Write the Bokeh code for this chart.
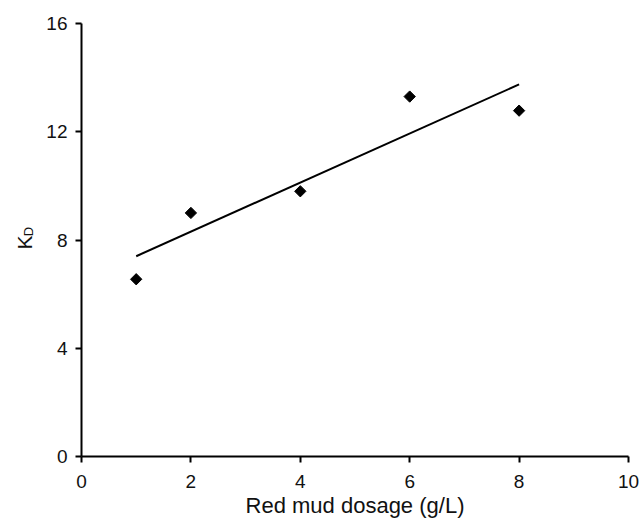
import math
from bokeh.plotting import figure
from bokeh.layouts import row
from bokeh.models import Range1d, FixedTicker
from bokeh.core.properties import value
from bokeh.embed import file_html
from bokeh.resources import INLINE

# Data
dosage = [1, 2, 4, 6, 8]
kd = [6.55, 9.0, 9.8, 13.3, 12.78]
fit_x = [1, 8]
fit_y = [7.4, 13.75]
x_ticks = [0, 2, 4, 6, 8, 10]
y_ticks = [0, 4, 8, 12, 16]

FONT = "Liberation Sans"
TEXT_COLOR = "#111111"
LW = 40  # width of the strip that holds the rotated y-axis title
H = 520

# Narrow strip for the y-axis title "K" with subscript "D"
lf = figure(width=LW, height=H, output_backend="svg", toolbar_location=None,
            x_range=Range1d(0, LW), y_range=Range1d(H, 0),
            x_axis_type=None, y_axis_type=None, title=None,
            min_border=0)
lf.outline_line_color = None
lf.xgrid.visible = False
lf.ygrid.visible = False
lf.text(x=[24], y=[263], text=["K"], angle=math.pi / 2,
        text_font=value(FONT), text_font_size="21px", text_color=TEXT_COLOR,
        text_align="center", text_baseline="middle")
lf.text(x=[28], y=[250], text=["D"], angle=math.pi / 2,
        text_font=value(FONT), text_font_size="13px", text_color=TEXT_COLOR,
        text_align="center", text_baseline="middle")

p = figure(width=641 - LW, height=H, output_backend="svg", toolbar_location=None,
           x_range=Range1d(0, 10), y_range=Range1d(0, 16), title=None,
           min_border_left=81 - LW, min_border_right=13, min_border_top=23, min_border_bottom=63)
p.outline_line_color = None
p.xgrid.visible = False
p.ygrid.visible = False
p.background_fill_color = "white"
p.border_fill_color = "white"

for ax, ticks in ((p.xaxis[0], x_ticks), (p.yaxis[0], y_ticks)):
    ax.ticker = FixedTicker(ticks=ticks)
    ax.axis_line_width = 2
    ax.axis_line_color = "black"
    ax.major_tick_line_width = 2
    ax.major_tick_line_color = "black"
    ax.major_tick_out = 6
    ax.major_tick_in = 0
    ax.minor_tick_line_color = None
    ax.major_label_text_font = FONT
    ax.major_label_text_font_size = "19px"
    ax.major_label_text_color = TEXT_COLOR
    ax.major_label_text_line_height = 1.0

p.xaxis.major_label_standoff = 12
p.yaxis.major_label_standoff = 8

p.xaxis.axis_label = "Red mud dosage (g/L)"
p.xaxis.axis_label_text_font = FONT
p.xaxis.axis_label_text_font_size = "22px"
p.xaxis.axis_label_text_font_style = "normal"
p.xaxis.axis_label_text_color = TEXT_COLOR
p.xaxis.axis_label_text_line_height = 1.0
p.xaxis.axis_label_standoff = 2
p.yaxis.axis_label = None

p.line(fit_x, fit_y, line_color="black", line_width=2)
p.scatter(dosage, kd, marker="square", angle=math.pi / 4, size=8,
          fill_color="black", line_color="black")

layout = row(lf, p, spacing=0)
open("out.html", "w").write(file_html(layout, INLINE))
